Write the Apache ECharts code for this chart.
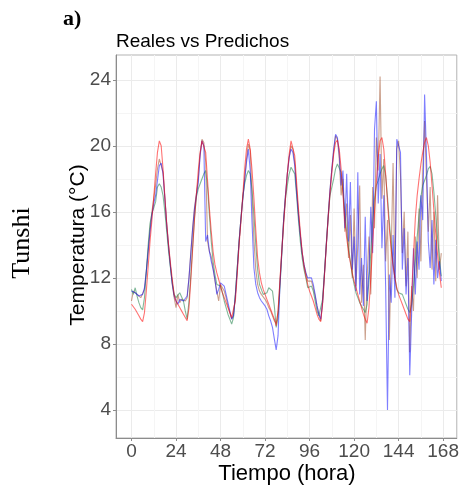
<!DOCTYPE html>
<html>
<head>
<meta charset="utf-8">
<script src="https://cdn.jsdelivr.net/npm/echarts@6/dist/echarts.min.js"></script>
<style>
  html, body { margin: 0; padding: 0; background: #ffffff; }
  #chart { width: 462px; height: 488px; }
</style>
</head>
<body>
<div id="chart"></div>
<script>
// Hourly time index (hours 0..167)
const hours = Array.from({ length: 168 }, (_, i) => i);

// Axis ticks and grid positions
const xTicks = [0, 24, 48, 72, 96, 120, 144, 168];
const xGrid = [0, 12, 24, 36, 48, 60, 72, 84, 96, 108, 120, 132, 144, 156, 168];
const yTicks = [4, 8, 12, 16, 20, 24];
const yGrid = [4, 6, 8, 10, 12, 14, 16, 18, 20, 22, 24];

// Temperature series (°C), one value per hour
const serieRoja = [
  10.4,10.3,10.1,9.9,9.7,9.5,9.35,9.9,11.2,12.7,14.2,15.5,16.9,18.3,19.6,20.3,20.0,18.6,16.9,15.3,14.0,12.9,11.9,11.0,
  10.6,10.4,10.2,10.0,9.8,9.6,9.4,10.2,11.9,13.8,15.6,17.1,18.5,19.6,20.3,20.4,19.6,17.9,16.2,14.8,13.6,12.8,12.3,11.9,
  11.5,11.1,10.8,10.5,10.2,9.9,9.6,9.7,10.6,12.2,14.0,15.4,17.0,18.6,19.8,20.4,19.8,18.5,16.8,14.9,13.2,12.3,11.7,11.3,
  11.0,10.7,10.4,10.1,9.8,9.5,9.1,10.0,11.8,13.6,15.2,16.8,18.3,19.5,20.3,20.3,19.4,17.8,16.2,14.8,13.6,12.7,12.1,11.6,
  11.2,10.9,10.6,10.2,9.8,9.5,9.35,10.4,12.1,13.9,15.6,17.1,18.4,19.5,20.2,20.35,19.8,18.6,17.0,15.5,14.4,13.6,12.9,12.3,
  11.8,11.4,11.0,10.6,10.2,9.8,9.5,9.25,10.2,12.0,14.0,16.0,17.8,19.3,20.3,20.5,19.8,18.3,16.6,15.0,13.7,12.7,12.0,11.4,
  11.0,10.7,10.4,10.1,9.8,9.5,9.35,11.0,13.4,15.6,17.0,18.0,18.9,19.6,20.2,20.5,20.0,19.0,17.6,16.1,14.7,13.4,12.3,11.4
];
const serieAzul = [
  11.2,11.3,11.1,11.0,10.9,10.9,11.0,11.4,12.4,13.6,14.8,15.8,16.5,17.0,17.9,18.8,18.95,18.3,16.8,15.2,13.9,12.7,11.6,10.9,
  10.6,10.4,10.7,10.6,10.6,10.7,10.9,12.0,13.5,15.0,16.2,17.0,17.8,19.4,20.3,20.0,14.2,14.6,13.6,13.0,12.5,11.9,11.0,11.3,
  11.7,11.8,11.5,11.0,10.5,10.0,9.5,9.7,10.9,12.5,14.2,15.6,16.8,17.9,19.0,19.8,18.5,15.3,12.6,11.6,11.1,10.8,10.6,10.5,
  10.3,10.1,9.7,9.4,9.0,8.3,7.64,8.5,11.5,13.5,15.5,17.0,18.3,19.3,19.8,19.6,18.8,17.2,15.8,14.6,13.5,12.8,12.3,12.0,
  12.1,12.0,11.6,11.0,10.3,9.8,9.5,10.5,12.2,14.0,15.7,17.3,18.6,19.8,20.7,20.5,19.5,17.6,18.5,15.0,18.3,14.2,17.8,12.5,
  14.5,11.2,18.4,11.0,13.2,10.3,15.7,10.6,12.4,16.3,13.5,21.0,22.7,16.5,19.5,13.8,17.0,11.5,4.0,12.2,10.5,14.6,10.8,20.4,
  20.3,19.6,12.5,15.0,11.0,13.2,6.1,9.8,13.8,11.0,14.2,12.5,17.0,15.5,23.1,19.5,14.2,12.6,15.5,11.6,14.3,12.0,13.0,11.8
];
const serieVerde = [
  11.3,11.0,11.4,10.9,10.5,10.2,10.06,10.8,12.4,14.0,15.3,15.9,16.0,16.6,17.5,17.7,17.5,17.0,16.0,14.8,13.6,12.6,11.7,11.0,
  10.8,10.9,11.1,11.0,10.6,10.0,9.5,10.6,12.2,14.0,15.7,16.9,17.4,17.7,18.0,18.3,18.5,17.5,15.8,14.2,13.0,12.2,11.6,11.5,
  11.5,11.1,10.6,10.2,9.8,9.5,9.2,9.6,11.0,12.6,14.2,15.6,16.9,17.7,18.2,18.5,18.3,17.3,15.8,14.0,12.5,11.6,11.3,11.0,
  10.9,11.1,11.4,11.4,11.2,10.3,9.0,9.6,11.4,13.4,15.4,16.8,17.6,18.3,18.7,18.6,18.3,17.0,15.5,14.2,13.2,12.5,12.0,11.4,
  11.3,11.5,11.2,10.6,10.0,9.7,9.6,10.7,12.3,14.0,15.6,17.0,17.5,18.0,18.6,18.9,18.95,18.4,17.2,16.0,14.8,13.8,13.0,12.2,
  11.6,11.1,10.8,10.5,10.3,10.1,9.9,10.4,11.8,13.6,15.4,16.8,17.6,17.9,18.3,18.6,18.8,18.2,16.9,15.4,14.0,12.9,12.0,11.3,
  11.1,11.2,11.0,10.7,10.4,10.1,9.9,10.4,11.5,13.0,14.5,15.8,16.9,17.6,17.9,18.2,18.6,18.75,18.3,17.2,15.8,14.4,13.2,12.1
];
const serieCafe = [
  10.6,11.2,11.1,11.0,10.9,10.8,10.9,11.3,12.4,13.7,15.0,16.0,16.8,17.6,18.6,19.2,19.3,18.4,16.8,15.2,13.9,12.7,11.6,10.8,
  10.2,11.0,10.5,10.7,10.6,10.6,10.8,12.0,13.6,15.1,16.3,17.1,18.0,19.5,20.4,20.2,19.0,14.2,13.6,13.3,12.6,11.8,11.2,10.6,
  11.6,11.6,11.2,10.8,10.3,9.9,9.5,9.8,11.0,12.6,14.2,15.6,16.8,18.0,19.2,20.1,19.7,17.0,14.3,12.5,11.6,11.2,11.0,10.9,
  10.7,10.5,10.2,10.0,9.7,9.4,9.25,9.9,11.7,13.6,15.5,17.0,18.3,19.3,20.0,19.8,19.0,17.4,15.9,14.6,13.5,12.8,12.3,11.8,
  11.9,11.8,11.4,10.9,10.3,9.8,9.4,10.5,12.2,14.0,15.7,17.3,18.6,19.7,20.6,20.4,19.2,17.0,18.0,14.8,16.5,13.2,15.8,12.0,
  16.2,11.5,14.0,17.6,10.5,12.8,8.24,12.0,14.5,11.0,17.5,15.0,20.5,18.5,24.2,16.8,19.2,13.0,15.5,8.24,13.5,18.95,12.0,19.8,
  20.3,18.2,13.5,16.0,11.5,14.8,7.5,11.5,10.0,14.5,12.0,16.2,13.0,18.5,21.5,18.0,14.8,17.5,12.5,16.0,11.8,17.0,12.5,13.5
];

const pairs = (vals) => hours.map((h, i) => [h, vals[i]]);

const X_MIN = -8.35, X_MAX = 175.35;
const Y_MIN = 2.3, Y_MAX = 25.5;

const tickLabelStyle = { color: '#4d4d4d', fontSize: 19, fontFamily: '"Liberation Sans", Arial, sans-serif' };
const gridColors = ['#ebebeb', '#f5f5f5'];

const chart = echarts.init(document.getElementById('chart'), null, { renderer: 'canvas' });

function lineSeries(name, vals, color) {
  return {
    name: name,
    type: 'line',
    xAxisIndex: 1,
    yAxisIndex: 1,
    data: pairs(vals),
    showSymbol: false,
    symbol: 'none',
    silent: true,
    animation: false,
    lineStyle: { color: color, width: 1.1 },
    z: 3
  };
}

chart.setOption({
  animation: false,
  backgroundColor: '#ffffff',
  grid: {
    left: 116, top: 55, right: 5, bottom: 50,
    show: true, borderColor: '#b3b3b3', borderWidth: 1, backgroundColor: 'transparent'
  },
  xAxis: [
    {
      // background grid (major + minor)
      type: 'value', min: X_MIN, max: X_MAX, position: 'bottom',
      axisLine: { show: false },
      axisTick: { show: false, customValues: xGrid },
      axisLabel: { show: false, customValues: xGrid },
      splitLine: { show: true, lineStyle: { color: gridColors, width: 1 } }
    },
    {
      type: 'value', min: X_MIN, max: X_MAX, position: 'bottom',
      axisLine: { show: true, onZero: false, lineStyle: { color: '#8c8c8c', width: 1 } },
      axisTick: { show: true, length: 3, customValues: xTicks, lineStyle: { color: '#8c8c8c' } },
      axisLabel: Object.assign({ show: true, margin: 4, customValues: xTicks }, tickLabelStyle),
      splitLine: { show: false }
    }
  ],
  yAxis: [
    {
      type: 'value', min: Y_MIN, max: Y_MAX, position: 'left',
      axisLine: { show: false },
      axisTick: { show: false, customValues: yGrid },
      axisLabel: { show: false, customValues: yGrid },
      splitLine: { show: true, lineStyle: { color: gridColors, width: 1 } }
    },
    {
      type: 'value', min: Y_MIN, max: Y_MAX, position: 'left',
      axisLine: { show: true, onZero: false, lineStyle: { color: '#8c8c8c', width: 1 } },
      axisTick: { show: true, length: 3, customValues: yTicks, lineStyle: { color: '#8c8c8c' } },
      axisLabel: Object.assign({ show: true, margin: 5, customValues: yTicks }, tickLabelStyle),
      splitLine: { show: false }
    }
  ],
  series: [
    lineSeries('Café', serieCafe, 'rgba(160, 82, 45, 0.55)'),
    lineSeries('Verde', serieVerde, 'rgba(46, 139, 87, 0.6)'),
    lineSeries('Azul', serieAzul, 'rgba(0, 0, 255, 0.5)'),
    lineSeries('Roja', serieRoja, 'rgba(255, 0, 0, 0.55)')
  ],
  graphic: [
    {
      type: 'text', left: 63, top: 8,
      style: { text: 'a)', font: 'bold 22px "Liberation Serif", "Times New Roman", serif', fill: '#000000' }
    },
    {
      type: 'text', left: 116, top: 32,
      style: { text: 'Reales vs Predichos', font: '19px "Liberation Sans", Arial, sans-serif', fill: '#000000' }
    },
    {
      type: 'text', x: 22, y: 243, rotation: Math.PI / 2,
      style: { text: 'Tunshi', font: '26px "Liberation Serif", "Times New Roman", serif', fill: '#000000',
               textAlign: 'center', textVerticalAlign: 'middle' }
    },
    {
      type: 'text', x: 78, y: 245, rotation: Math.PI / 2,
      style: { text: 'Temperatura (°C)', font: '21px "Liberation Sans", Arial, sans-serif', fill: '#000000',
               textAlign: 'center', textVerticalAlign: 'middle' }
    },
    {
      type: 'text', x: 287, y: 474,
      style: { text: 'Tiempo (hora)', font: '22px "Liberation Sans", Arial, sans-serif', fill: '#000000',
               textAlign: 'center', textVerticalAlign: 'middle' }
    }
  ]
});
</script>
</body>
</html>
